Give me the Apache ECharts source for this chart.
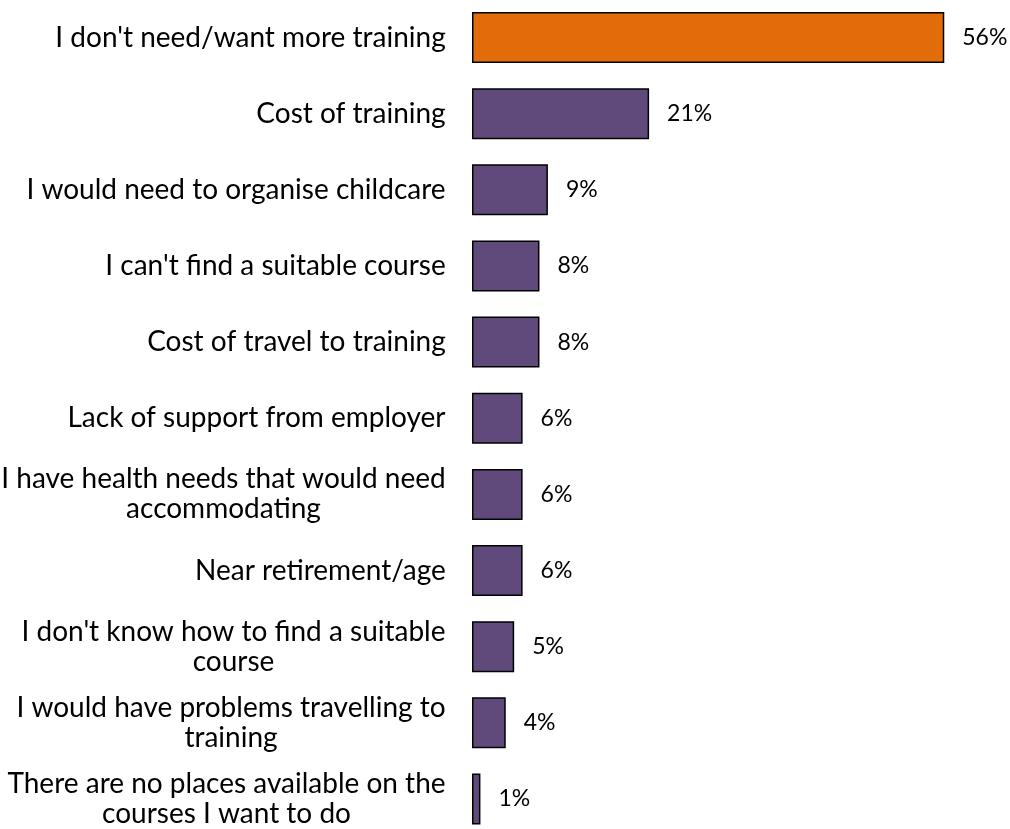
<!DOCTYPE html>
<html>
<head>
<meta charset="utf-8">
<script src="https://cdn.jsdelivr.net/npm/echarts@6/dist/echarts.min.js"></script>
<style>
  html, body { margin: 0; padding: 0; background: #fff; }
  #chart { width: 1010px; height: 829px; }
</style>
</head>
<body>
<div id="chart"></div>
<script>
// Reasons for not taking up more training (share of respondents, %)
const categories = [
  "I don't need/want more training",
  "Cost of training",
  "I would need to organise childcare",
  "I can't find a suitable course",
  "Cost of travel to training",
  "Lack of support from employer",
  "I have health needs that would need\naccommodating",
  "Near retirement/age",
  "I don't know how to find a suitable\ncourse",
  "I would have problems travelling to\ntraining",
  "There are no places available on the\ncourses I want to do"
];
const values = [56, 21, 9, 8, 8, 6, 6, 6, 5, 4, 1];
const highlightIndex = 0;

const ORANGE = '#E36C0A';
const PURPLE = '#604A7B';
const FONT = 'Lato';
const CAT_SIZE = 28;

// Each category label is right-aligned against the axis as a block,
// with its wrapped lines centred inside that block.
const measureCtx = document.createElement('canvas').getContext('2d');
measureCtx.font = CAT_SIZE + 'px ' + FONT;
const catRich = {};
categories.forEach((c, i) => {
  const w = Math.max(...c.split('\n').map(l => measureCtx.measureText(l).width));
  catRich['c' + i] = { width: Math.ceil(w), align: 'center', fontFamily: FONT, fontSize: CAT_SIZE, lineHeight: 30, color: '#000' };
});

const chart = echarts.init(document.getElementById('chart'), null, { renderer: 'canvas' });

chart.setOption({
  backgroundColor: '#ffffff',
  animation: false,
  grid: { left: 472, right: 32, top: -0.6, bottom: -8.1, containLabel: false, outerBoundsMode: 'none' },
  xAxis: {
    type: 'value',
    min: 0,
    max: 60,
    show: false
  },
  yAxis: {
    type: 'category',
    inverse: true,
    data: categories,
    axisLine: { show: false },
    axisTick: { show: false },
    splitLine: { show: false },
    axisLabel: {
      margin: 26,
      color: '#000',
      fontFamily: FONT,
      fontSize: CAT_SIZE,
      lineHeight: 30,
      align: 'right',
      rich: catRich,
      formatter: (val, idx) => val.split('\n').map(l => '{c' + idx + '|' + l + '}').join('\n')
    }
  },
  series: [{
    type: 'bar',
    data: values.map((v, i) => ({
      value: v,
      itemStyle: { color: i === highlightIndex ? ORANGE : PURPLE }
    })),
    barWidth: 51,
    itemStyle: { borderColor: '#000', borderWidth: 1.5 },
    label: {
      show: true,
      position: 'right',
      distance: 18,
      color: '#000',
      fontFamily: FONT,
      fontSize: 23,
      formatter: p => p.value + '%'
    }
  }]
});
</script>
</body>
</html>
